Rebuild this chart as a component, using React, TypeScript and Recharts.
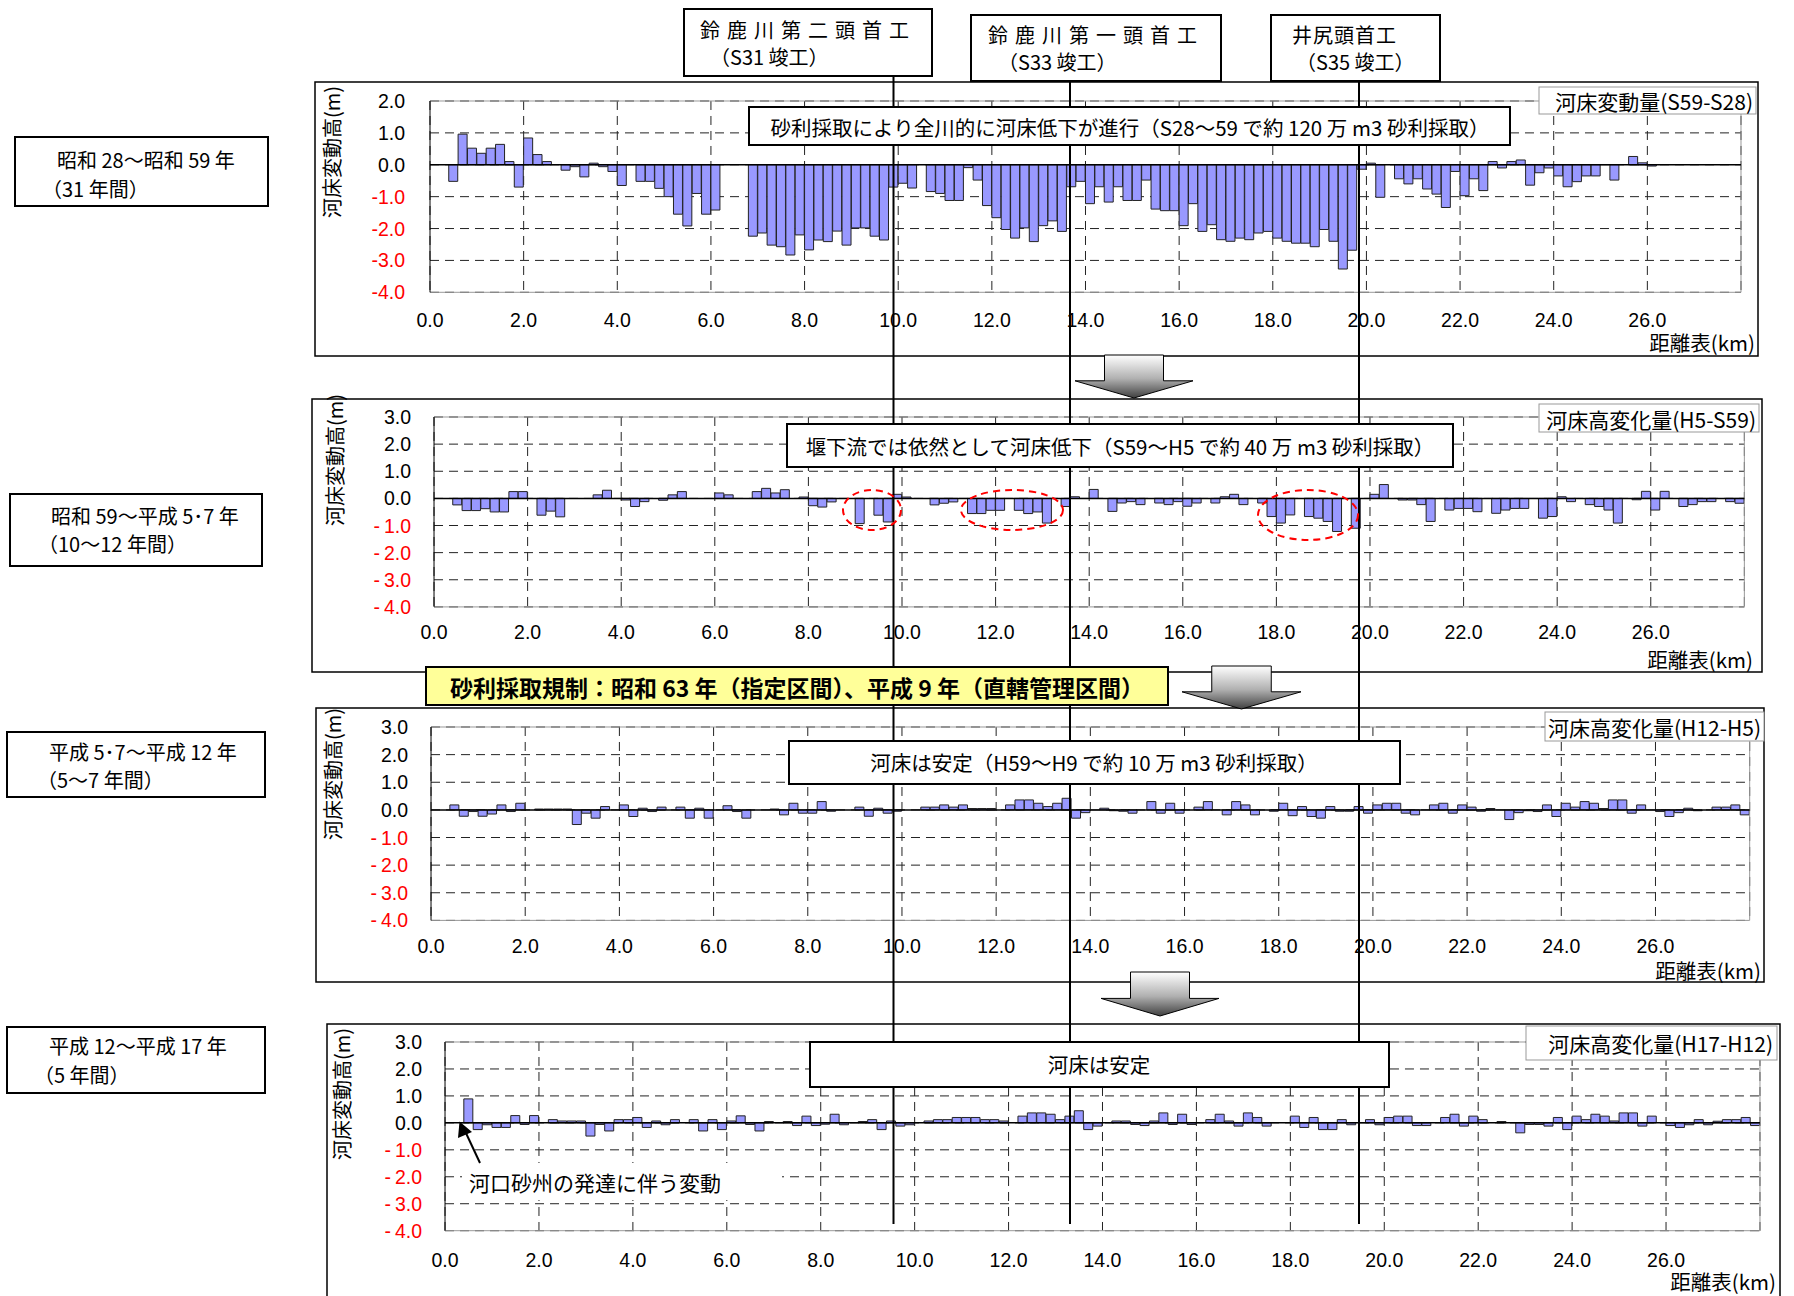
import React from "react";
import { BarChart, Bar, XAxis, YAxis, CartesianGrid, ReferenceLine } from "recharts";

const FONT = "'Liberation Sans', Arial, 'Noto Sans CJK JP', sans-serif";
const JP = "'Noto Sans CJK JP', 'Liberation Sans', sans-serif";

// 0.2km区間の中央の距離標
const sections = Array.from({ length: 140 }, (_, i) => +(i * 0.2 + 0.1).toFixed(1));
const kmTicks = [0, 2, 4, 6, 8, 10, 12, 14, 16, 18, 20, 22, 24, 26];
const ticksS = [-4, -3, -2, -1, 0, 1, 2];
const ticksH = [-4, -3, -2, -1, 0, 1, 2, 3];

// ── 河床変動量 (S59-S28) ──
const dS59S28 = [
  null, null, -0.52, 0.96, 0.52, 0.36, 0.52, 0.64, 0.1, -0.7,
  0.84, 0.32, 0.1, null, -0.17, -0.06, -0.38, 0.05, -0.06, -0.21,
  -0.65, null, -0.52, -0.52, -0.74, -1.0, -1.55, -1.92, -0.9, -1.55,
  -1.42, null, null, null, -2.24, -2.14, -2.52, -2.57, -2.83, -2.2,
  -2.67, -2.36, -2.41, -2.08, -2.52, -1.98, -1.98, -2.24, -2.36, -0.7,
  -0.58, -0.73, null, -0.84, -0.9, -1.12, -1.12, -0.09, -0.48, -1.28,
  -1.66, -2.03, -2.3, -1.98, -2.41, -1.91, -1.76, -2.09, -0.69, -0.52,
  -1.22, -0.69, -1.17, -0.69, -1.12, -1.12, -0.48, -1.39, -1.44, -1.44,
  -1.91, -1.22, -2.09, -1.88, -2.35, -2.4, -2.3, -2.35, -2.14, -2.09,
  -2.3, -2.4, -2.46, -2.46, -2.57, -2.03, -2.4, -3.27, -2.68, -0.14,
  0.05, -1.02, null, -0.44, -0.6, -0.44, -0.76, -0.92, -1.34, -0.21,
  -0.97, -0.44, -0.81, 0.1, -0.1, 0.1, 0.15, -0.64, -0.25, -0.1,
  -0.35, -0.69, -0.53, -0.35, -0.35, null, -0.48, null, 0.26, 0.06,
  -0.04, null, null, null, null, null, null, null, null, null,
];

// ── 河床高変化量 (H5-S59) ──
const dH5S59 = [
  null, null, -0.24, -0.45, -0.45, -0.38, -0.5, -0.5, 0.25, 0.25,
  null, -0.62, -0.47, -0.68, null, null, null, 0.13, 0.3, null,
  -0.06, -0.3, -0.12, null, -0.07, 0.13, 0.25, null, null, null,
  0.2, 0.13, null, null, 0.25, 0.37, 0.2, 0.32, null, 0.05,
  -0.27, -0.32, -0.13, null, null, -0.93, null, -0.62, -0.87, 0.15,
  0.05, null, null, -0.24, -0.18, -0.13, null, -0.56, -0.56, -0.44,
  -0.44, null, -0.44, -0.56, -0.5, -0.91, null, -0.3, 0.06, null,
  0.33, null, -0.48, -0.17, -0.12, -0.23, null, -0.17, -0.23, -0.12,
  -0.29, -0.17, null, -0.17, 0.06, 0.15, -0.23, null, -0.17, -0.67,
  -0.91, -0.61, null, -0.67, -0.73, -0.85, -1.22, null, -1.1, null,
  0.15, 0.51, null, -0.06, -0.06, -0.23, -0.85, null, -0.43, -0.37,
  -0.37, -0.49, null, -0.55, -0.43, -0.37, -0.37, null, -0.73, -0.67,
  0.06, -0.12, null, -0.23, -0.3, -0.43, -0.91, null, -0.05, 0.26,
  -0.43, 0.26, null, -0.3, -0.23, -0.12, -0.12, null, -0.12, -0.18,
];

// ── 河床高変化量 (H12-H5) ──
const dH12H5 = [
  null, null, 0.18, -0.23, -0.06, -0.23, -0.15, 0.18, -0.06, 0.24,
  null, 0.03, 0.03, 0.03, 0.03, -0.53, -0.12, -0.3, 0.12, null,
  0.18, -0.24, 0.06, -0.06, 0.1, null, 0.1, -0.3, 0.06, -0.3,
  null, 0.15, -0.06, -0.3, null, null, 0.03, -0.18, 0.24, -0.12,
  -0.12, 0.3, -0.05, null, null, 0.1, -0.23, 0.06, -0.12, -0.05,
  null, null, 0.1, 0.1, 0.18, 0.1, 0.18, 0.05, 0.05, 0.05,
  null, 0.18, 0.36, 0.36, 0.24, 0.12, 0.24, 0.42, -0.3, -0.1,
  null, 0.06, -0.03, -0.05, -0.12, null, 0.3, -0.12, 0.24, -0.12,
  null, 0.1, 0.3, null, -0.18, 0.3, 0.18, -0.18, null, -0.05,
  0.24, -0.21, 0.12, -0.24, -0.3, 0.12, -0.05, -0.05, 0.12, -0.12,
  0.18, 0.24, 0.24, -0.12, -0.18, null, 0.18, 0.24, -0.12, 0.18,
  0.1, -0.05, 0.05, null, -0.35, -0.1, -0.03, -0.06, 0.18, -0.24,
  0.24, 0.1, 0.3, 0.24, 0.05, 0.36, 0.36, -0.12, 0.18, null,
  -0.06, -0.24, -0.1, 0.06, -0.03, null, 0.1, 0.1, 0.18, -0.18,
];

// ── 河床高変化量 (H17-H12) ──
const dH17H12 = [
  null, null, 0.89, -0.25, -0.07, -0.17, -0.17, 0.27, -0.06, 0.27,
  null, 0.12, 0.07, 0.07, 0.07, -0.49, -0.06, -0.3, 0.12, 0.12,
  0.2, -0.17, 0.07, -0.07, 0.12, null, 0.12, -0.3, 0.12, -0.25,
  0.07, 0.26, -0.06, -0.3, 0.05, null, 0.05, -0.1, 0.25, -0.1,
  -0.05, 0.32, -0.07, null, 0.05, 0.12, -0.25, 0.07, -0.12, -0.07,
  null, 0.07, 0.12, 0.12, 0.2, 0.2, 0.2, 0.12, 0.12, 0.07,
  null, 0.25, 0.37, 0.37, 0.32, 0.12, 0.25, 0.45, -0.25, -0.12,
  null, 0.07, 0.07, -0.06, -0.1, 0.07, 0.37, -0.06, 0.32, -0.06,
  null, 0.12, 0.32, 0.07, -0.12, 0.37, 0.2, -0.12, null, null,
  0.25, -0.17, 0.2, -0.25, -0.25, 0.12, -0.07, null, 0.12, -0.07,
  0.2, 0.25, 0.25, -0.1, -0.1, null, 0.2, 0.32, -0.12, 0.25,
  0.12, null, 0.05, null, -0.37, -0.06, -0.06, -0.12, 0.2, -0.25,
  0.25, 0.12, 0.32, 0.25, 0.07, 0.37, 0.37, -0.12, 0.25, null,
  -0.1, -0.17, -0.07, 0.12, -0.07, 0.06, 0.12, 0.12, 0.2, -0.1,
];

// eslint-disable-next-line @typescript-eslint/no-explicit-any
function makeYTick(gap: string) {
  return function YTick(props: any) {
    const { x, y, payload } = props;
    const v = payload.value as number;
    const label = v < 0 ? `-${gap}${Math.abs(v).toFixed(1)}` : v.toFixed(1);
    return (
      <text x={x} y={y} dy={7} textAnchor="end" fontSize={19.5} fontFamily={FONT} fill={v < 0 ? "#ff0000" : "#000"}>
        {label}
      </text>
    );
  };
}

type PanelProps = {
  values: (number | null)[];
  yTicks: number[];
  L: number; R: number; T: number; B: number;
  xGap: number; yGap: number; minusGap: string;
};

function Panel({ values, yTicks, L, R, T, B, xGap, yGap, minusGap }: PanelProps) {
  const left = L - 100;
  const top = T - 20;
  const width = R - left + 10;
  const height = B - top + 44;
  const rows = sections.map((km, i) => ({ km, v: values[i] }));
  const yMin = yTicks[0];
  const yMax = yTicks[yTicks.length - 1];
  return (
    <div style={{ position: "absolute", left, top }}>
      <BarChart
        width={width}
        height={height}
        data={rows}
        margin={{ top: 20, right: 10, bottom: 0, left: 0 }}
        barCategoryGap={0}
        barGap={0}
      >
        <CartesianGrid xAxisId="km" stroke="#222" strokeDasharray="9 6" />
        <XAxis dataKey="km" hide orientation="top" height={0} />
        <XAxis
          xAxisId="km"
          type="number"
          dataKey="km"
          domain={[0, 28]}
          ticks={kmTicks}
          allowDataOverflow
          tickFormatter={(v: number) => v.toFixed(1)}
          stroke="#999"
          tickLine={false}
          tickSize={0}
          tickMargin={xGap}
          tick={{ fill: "#000", fontSize: 19.5, fontFamily: FONT }}
          height={44}
        />
        <YAxis
          domain={[yMin, yMax]}
          ticks={yTicks}
          allowDataOverflow
          width={100}
          stroke="#000"
          tickLine={false}
          tickSize={0}
          tickMargin={yGap}
          tick={makeYTick(minusGap)}
        />
        <ReferenceLine y={yMax} stroke="#999" />
        <ReferenceLine x={28} xAxisId="km" stroke="#999" />
        <Bar dataKey="v" fill="#9999ff" stroke="#222" strokeWidth={1} isAnimationActive={false} />
        <ReferenceLine y={0} stroke="#000" strokeWidth={1.5} />
      </BarChart>
    </div>
  );
}

function DownArrow({ x, y, w, h }: { x: number; y: number; w: number; h: number }) {
  const bh = h * 0.6;
  const d = `M${x + w * 0.25} ${y} H${x + w * 0.75} V${y + bh} H${x + w} L${x + w / 2} ${y + h} L${x} ${y + bh} H${x + w * 0.25} Z`;
  return <path d={d} fill="url(#arrowGrad)" stroke="#000" strokeWidth={1} />;
}

function Box({ x, y, w, h, sw = 2, fill = "#fff", stroke = "#000" }: { x: number; y: number; w: number; h: number; sw?: number; fill?: string; stroke?: string }) {
  return <rect x={x} y={y} width={w} height={h} fill={fill} stroke={stroke} strokeWidth={sw} />;
}

export default function App() {
  return (
    <div style={{ position: "absolute", left: 0, top: 0, width: 1794, height: 1296, background: "#fff", overflow: "hidden" }}>
      <Panel values={dS59S28} yTicks={ticksS} L={430} R={1741} T={100.5} B={291.8} xGap={21} yGap={25} minusGap="" />
      <Panel values={dH5S59} yTicks={ticksH} L={433.6} R={1744} T={416.5} B={606.4} xGap={18} yGap={23} minusGap={"\u2009"} />
      <Panel values={dH12H5} yTicks={ticksH} L={431.3} R={1750} T={726.5} B={919.9} xGap={19} yGap={23} minusGap={"\u2009"} />
      <Panel values={dH17H12} yTicks={ticksH} L={445} R={1760} T={1042.3} B={1231} xGap={22} yGap={23} minusGap={"\u2009"} />

      <svg width={1794} height={1296} style={{ position: "absolute", left: 0, top: 0, pointerEvents: "none" }}>
        <defs>
          <linearGradient id="arrowGrad" x1="0" y1="0" x2="0" y2="1">
            <stop offset="0%" stopColor="#ffffff" />
            <stop offset="55%" stopColor="#b0b0b0" />
            <stop offset="100%" stopColor="#404040" />
          </linearGradient>
        </defs>

        {/* パネル外枠 */}
        <rect x={315} y={82} width={1443} height={274} fill="none" stroke="#000" strokeWidth={1.5} />
        <rect x={312} y={399} width={1450} height={273} fill="none" stroke="#000" strokeWidth={1.5} />
        <rect x={316} y={708} width={1448} height={274} fill="none" stroke="#000" strokeWidth={1.5} />
        <rect x={327} y={1024} width={1453} height={290} fill="none" stroke="#000" strokeWidth={1.5} />

        {/* 頭首工位置 */}
        <line x1={893.5} y1={76} x2={893.5} y2={1224} stroke="#000" strokeWidth={2} />
        <line x1={1070} y1={81} x2={1070} y2={1224} stroke="#000" strokeWidth={2} />
        <line x1={1359} y1={81} x2={1359} y2={1224} stroke="#000" strokeWidth={2} />

        {/* 頭首工ラベル */}
        <g fontFamily={JP} fontSize={20} fill="#000">
          <Box x={684} y={9} w={248} h={67} />
          <text x={808} y={29} textAnchor="middle" dominantBaseline="central" letterSpacing={7}>鈴鹿川第二頭首工</text>
          <text x={710} y={56} dominantBaseline="central">（S31 竣工）</text>
          <Box x={971} y={15} w={250} h={66} />
          <text x={1096} y={34} textAnchor="middle" dominantBaseline="central" letterSpacing={7}>鈴鹿川第一頭首工</text>
          <text x={998} y={61} dominantBaseline="central">（S33 竣工）</text>
          <Box x={1271} y={15} w={169} h={66} />
          <text x={1292} y={34} dominantBaseline="central" letterSpacing={1}>井尻頭首工</text>
          <text x={1296} y={61} dominantBaseline="central">（S35 竣工）</text>
        </g>

        {/* 期間ラベル */}
        <g fontFamily={JP} fontSize={20} fill="#000">
          <Box x={15} y={137} w={253} h={69} />
          <text x={57} y={159} dominantBaseline="central">昭和 28～昭和 59 年</text>
          <text x={42} y={188} dominantBaseline="central">（31 年間）</text>
          <Box x={10} y={494} w={252} h={72} />
          <text x={51} y={515} dominantBaseline="central">昭和 59～平成 5･7 年</text>
          <text x={38} y={543} dominantBaseline="central">（10～12 年間）</text>
          <Box x={7} y={732} w={258} h={65} />
          <text x={49} y={751} dominantBaseline="central">平成 5･7～平成 12 年</text>
          <text x={37} y={779} dominantBaseline="central">（5～7 年間）</text>
          <Box x={7} y={1027} w={258} h={66} />
          <text x={49} y={1045} dominantBaseline="central">平成 12～平成 17 年</text>
          <text x={34} y={1074} dominantBaseline="central">（5 年間）</text>
        </g>

        {/* 縦軸タイトル */}
        <g fontFamily={JP} fontSize={20} fill="#000">
          <text transform="translate(331,152) rotate(-90)" textAnchor="middle" dominantBaseline="central">河床変動高(m)</text>
          <text transform="translate(334,460) rotate(-90)" textAnchor="middle" dominantBaseline="central">河床変動高(m)</text>
          <text transform="translate(332,774) rotate(-90)" textAnchor="middle" dominantBaseline="central">河床変動高(m)</text>
          <text transform="translate(341,1094) rotate(-90)" textAnchor="middle" dominantBaseline="central">河床変動高(m)</text>
        </g>

        {/* 横軸タイトル */}
        <g fontFamily={JP} fontSize={20.5} fill="#000" textAnchor="end">
          <text x={1755} y={342} dominantBaseline="central">距離表(km)</text>
          <text x={1753} y={659} dominantBaseline="central">距離表(km)</text>
          <text x={1761} y={970} dominantBaseline="central">距離表(km)</text>
          <text x={1776} y={1281} dominantBaseline="central">距離表(km)</text>
        </g>

        {/* 凡例タイトル */}
        <g fontFamily={JP} fontSize={21} fill="#000">
          <Box x={1539} y={87} w={217} h={27} sw={1} stroke="#999" />
          <text x={1753} y={101} textAnchor="end" dominantBaseline="central">河床変動量(S59-S28)</text>
          <Box x={1539} y={404} w={220} h={28} sw={1} stroke="#999" />
          <text x={1756} y={419} textAnchor="end" dominantBaseline="central">河床高変化量(H5-S59)</text>
          <Box x={1545} y={712} w={219} h={29} sw={1} stroke="#999" />
          <text x={1761} y={727} textAnchor="end" dominantBaseline="central">河床高変化量(H12-H5)</text>
          <Box x={1526} y={1026} w={251} h={34} sw={1} stroke="#999" />
          <text x={1773} y={1043} textAnchor="end" dominantBaseline="central">河床高変化量(H17-H12)</text>
        </g>

        {/* 注記 */}
        <g fontFamily={JP} fontSize={20.5} fill="#000">
          <Box x={749} y={107} w={761} h={38} />
          <text x={1130} y={127} textAnchor="middle" dominantBaseline="central">砂利採取により全川的に河床低下が進行（S28～59 で約 120 万 m3 砂利採取）</text>
          <Box x={787} y={424} w={666} h={43} />
          <text x={1120} y={446} textAnchor="middle" dominantBaseline="central">堰下流では依然として河床低下（S59～H5 で約 40 万 m3 砂利採取）</text>
          <Box x={789} y={741} w={611} h={43} />
          <text x={1094} y={762} textAnchor="middle" dominantBaseline="central">河床は安定（H59～H9 で約 10 万 m3 砂利採取）</text>
          <Box x={810} y={1042} w={579} h={45} />
          <text x={1099} y={1064} textAnchor="middle" dominantBaseline="central">河床は安定</text>
        </g>

        {/* 低下箇所 */}
        <g fill="none" stroke="#ff0000" strokeWidth={2} strokeDasharray="7 5">
          <ellipse cx={872} cy={510} rx={29} ry={20} />
          <ellipse cx={1012} cy={510} rx={51} ry={20} />
          <ellipse cx={1308} cy={515} rx={50} ry={25} />
        </g>

        {/* 規制 */}
        <Box x={426} y={667} w={742} h={38} fill="#ffff99" />
        <text x={797} y={687} textAnchor="middle" dominantBaseline="central" fontFamily={JP} fontSize={23} fontWeight={700} fill="#000">
          砂利採取規制：昭和 63 年（指定区間）、平成 9 年（直轄管理区間）
        </text>

        {/* 矢印 */}
        <DownArrow x={1075} y={355} w={118} h={43} />
        <DownArrow x={1182} y={666} w={119} h={43} />
        <DownArrow x={1101} y={972} w={118} h={44} />

        {/* 河口砂州 */}
        <rect x={462} y={1163} width={320} height={37} fill="#fff" />
        <text x={469} y={1182} dominantBaseline="central" fontFamily={JP} fontSize={21} fill="#000">河口砂州の発達に伴う変動</text>
        <line x1={480} y1={1163} x2={465} y2={1131} stroke="#000" strokeWidth={2} />
        <polygon points="459.5,1121.5 458,1138 472,1132" fill="#000" />
      </svg>
    </div>
  );
}
